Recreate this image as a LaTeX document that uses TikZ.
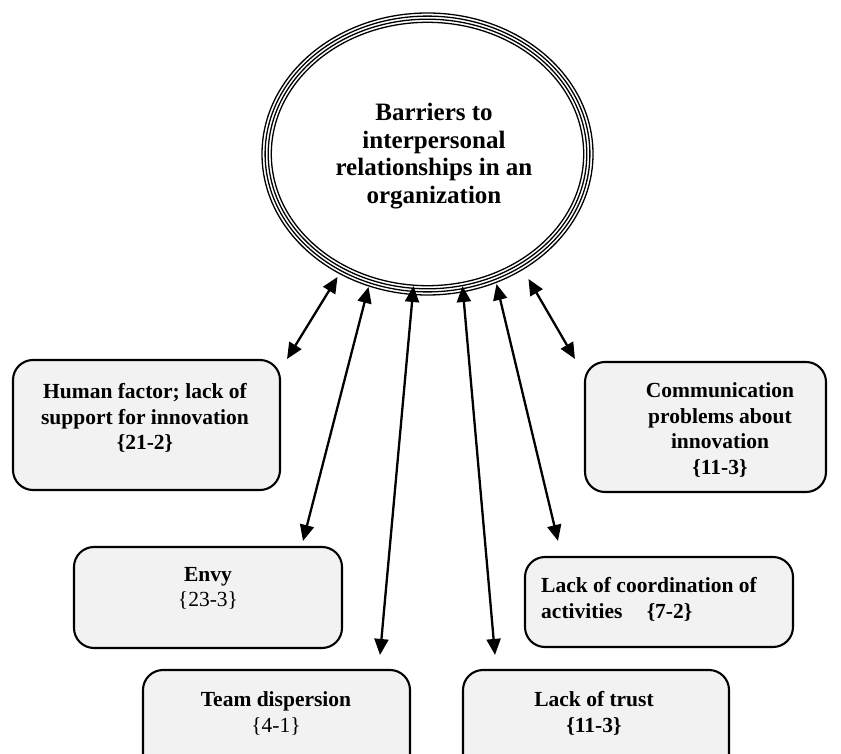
\documentclass[tikz,border=0pt]{standalone}
\usepackage{fontspec}
\setmainfont{Liberation Serif}
\usetikzlibrary{arrows.meta,shapes.geometric,calc}
\definecolor{boxfill}{RGB}{242,242,242}
\begin{document}
\begin{tikzpicture}[x=1pt,y=-1pt,
  barrier/.style={rectangle, draw, line width=2.1pt, rounded corners=20pt, fill=boxfill, inner sep=0pt},
  boxtext/.style={font=\bfseries\fontsize{21.5}{25.5}\selectfont, align=center, inner sep=0pt},
  coretext/.style={font=\bfseries\fontsize{25}{27.5}\selectfont, align=center, inner sep=0pt},
  link/.style={line width=2.3pt, {Triangle[length=16pt,width=14pt]}-{Triangle[length=16pt,width=14pt]}}
]
\useasboundingbox (0,0) rectangle (841,754);
\clip (0,0) rectangle (841,754);

% central ellipse with four concentric outlines
\node[ellipse, draw, line width=1.3pt, minimum width=331pt, minimum height=282pt, inner sep=0pt] (core) at (427.5,154) {};
\foreach \d in {3.1,6.2,9.3}
  \draw[line width=1.3pt] (core.center) ellipse [x radius={165.5pt-\d pt}, y radius={141pt-\d pt}];
\node[coretext] (coret) at (434,156) {Barriers to\\interpersonal\\relationships in an\\organization};

% barrier boxes
\node[barrier, minimum width=267pt, minimum height=130pt] (hf) at (146.5,425) {};
\node[boxtext] (hft) at (145,418) {Human factor; lack of\\support for innovation\\\{21-2\}};

\node[barrier, minimum width=241pt, minimum height=130pt] (comm) at (705.5,427) {};
\node[boxtext] (commt) at (720,430) {Communication\\problems about\\innovation\\\{11-3\}};

\node[barrier, minimum width=268pt, minimum height=101pt] (envy) at (208,597.5) {};
\node[boxtext] (envyt) at (208,588.5) {Envy\\\mdseries\{23-3\}};

\node[barrier, minimum width=268pt, minimum height=90pt] (coord) at (659,602) {};
\node[boxtext, align=left, anchor=west] (coordt) at (541,599.5) {Lack of coordination of\\activities\hspace*{19pt} \{7-2\}};

\node[barrier, minimum width=267pt, minimum height=120pt] (team) at (276.5,730) {};
\node[boxtext] (teamt) at (276,713.5) {Team dispersion\\\mdseries\{4-1\}};

\node[barrier, minimum width=266pt, minimum height=120pt] (trust) at (596,730) {};
\node[boxtext] (trustt) at (594,713.5) {Lack of trust\\\{11-3\}};

% two-headed connectors
\draw[link] ($(core.center)+(-90,123)$) -- ($(hf.north east)+(6,0)$);
\draw[link] ($(core.center)+(-59,133)$) -- ($(envy.north)+(95,-5)$);
\draw[link] ($(core.center)+(-14,132)$) -- ($(team.north)+(103.5,-14)$);
\draw[link] ($(core.center)+(35,132)$) -- ($(trust.north)+(-101,-14)$);
\draw[link] ($(core.center)+(69,130)$) -- ($(coord.north)+(-101,-15)$);
\draw[link] ($(core.center)+(101,125)$) -- ($(comm.north west)+(-9,-2)$);
\end{tikzpicture}
\end{document}
